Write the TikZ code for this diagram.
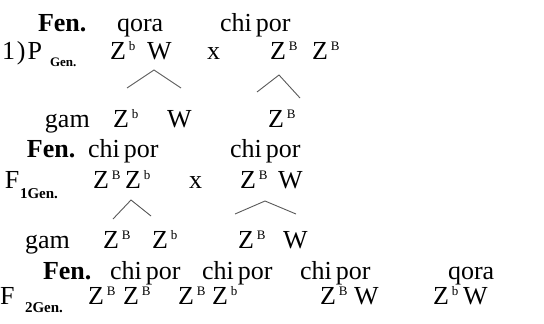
\documentclass[tikz,border=0pt]{standalone}
\usepackage{fontspec}
\setmainfont{Liberation Serif}
\newcommand\gs[1]{\hspace{3pt}\raisebox{8.5pt}{\fontsize{13}{13}\selectfont #1}}
\newcommand\chp{chi\hspace{4pt}por}
\begin{document}
\begin{tikzpicture}[x=1pt,y=-1pt,
  txt/.style={anchor=base west, inner sep=0pt, outer sep=0pt, font=\fontsize{26}{28}\selectfont},
  bld/.style={anchor=base west, inner sep=0pt, outer sep=0pt, font=\fontsize{26}{28}\selectfont\bfseries},
  subs/.style={anchor=base west, inner sep=0pt, outer sep=0pt, font=\fontsize{13}{14}\selectfont\bfseries},
  subsb/.style={anchor=base west, inner sep=0pt, outer sep=0pt, font=\fontsize{15}{16}\selectfont\bfseries},
  caret/.style={draw=black!65, line width=0.9pt}]
\useasboundingbox (0,0) rectangle (544,324);
% Row A
\node[bld] (fenA) at (38,31) {Fen.};
\node[txt] (phA1) at (117,31) {qora};
\node[txt] (phA2) at (220,31) {\chp};
% Row B: P generation
\node[txt] (pP) at (2,59) {1\hspace{2pt})\hspace{2pt}P};
\node[subs] (pGen) at (50,66) {Gen.};
\node[txt] (pZ1) at (110,59) {Z\gs{b}};
\node[txt] (pW1) at (147,59) {W};
\node[txt] (pX) at (207,59) {x};
\node[txt] (pZ2) at (270,59) {Z\gs{B}};
\node[txt] (pZ3) at (312,59) {Z\gs{B}};
\coordinate (c1l) at (127,88);
\coordinate (c1t) at (154,70);
\coordinate (c1r) at (181,88);
\draw[caret] (c1l) -- (c1t) -- (c1r);
\coordinate (c2l) at (257,92);
\coordinate (c2t) at (279,75);
\coordinate (c2r) at (300,98);
\draw[caret] (c2l) -- (c2t) -- (c2r);
% Row C: gametes
\node[txt] (gam1) at (45,127) {gam};
\node[txt] (g1Z) at (113,127) {Z\gs{b}};
\node[txt] (g1W) at (167,127) {W};
\node[txt] (g2Z) at (268,127) {Z\gs{B}};
% Row D
\node[bld] (fenD) at (27,157) {Fen.};
\node[txt] (phD1) at (88,157) {\chp};
\node[txt] (phD2) at (230,157) {\chp};
% Row E: F1
\node[txt] (fF1) at (5,188) {F};
\node[subsb] (f1Gen) at (20,198) {1Gen.};
\node[txt] (f1Z1) at (93,188) {Z\gs{B}};
\node[txt] (f1Z2) at (125,188) {Z\gs{b}};
\node[txt] (f1X) at (189,188) {x};
\node[txt] (f1Z3) at (240,188) {Z\gs{B}};
\node[txt] (f1W) at (278,188) {W};
\coordinate (c3l) at (113,219);
\coordinate (c3t) at (131,200);
\coordinate (c3r) at (151,216);
\draw[caret] (c3l) -- (c3t) -- (c3r);
\coordinate (c4l) at (235,214);
\coordinate (c4t) at (265,201);
\coordinate (c4r) at (296,214);
\draw[caret] (c4l) -- (c4t) -- (c4r);
% Row F: gametes
\node[txt] (gam2) at (25,248) {gam};
\node[txt] (g3Z1) at (103,248) {Z\gs{B}};
\node[txt] (g3Z2) at (152,248) {Z\gs{b}};
\node[txt] (g4Z) at (238,248) {Z\gs{B}};
\node[txt] (g4W) at (283,248) {W};
% Row G
\node[bld] (fenG) at (43,279) {Fen.};
\node[txt] (phG1) at (110,279) {\chp};
\node[txt] (phG2) at (202,279) {\chp};
\node[txt] (phG3) at (300,279) {\chp};
\node[txt] (phG4) at (448,279) {qora};
% Row H: F2
\node[txt] (fF2) at (0,304) {F};
\node[subsb] (f2Gen) at (25,312) {2Gen.};
\node[txt] (h1a) at (88,304) {Z\gs{B}};
\node[txt] (h1b) at (123,304) {Z\gs{B}};
\node[txt] (h2a) at (178,304) {Z\gs{B}};
\node[txt] (h2b) at (212,304) {Z\gs{b}};
\node[txt] (h3a) at (320,304) {Z\gs{B}};
\node[txt] (h3b) at (354,304) {W};
\node[txt] (h4a) at (433,304) {Z\gs{b}};
\node[txt] (h4b) at (463,304) {W};
\end{tikzpicture}
\end{document}
